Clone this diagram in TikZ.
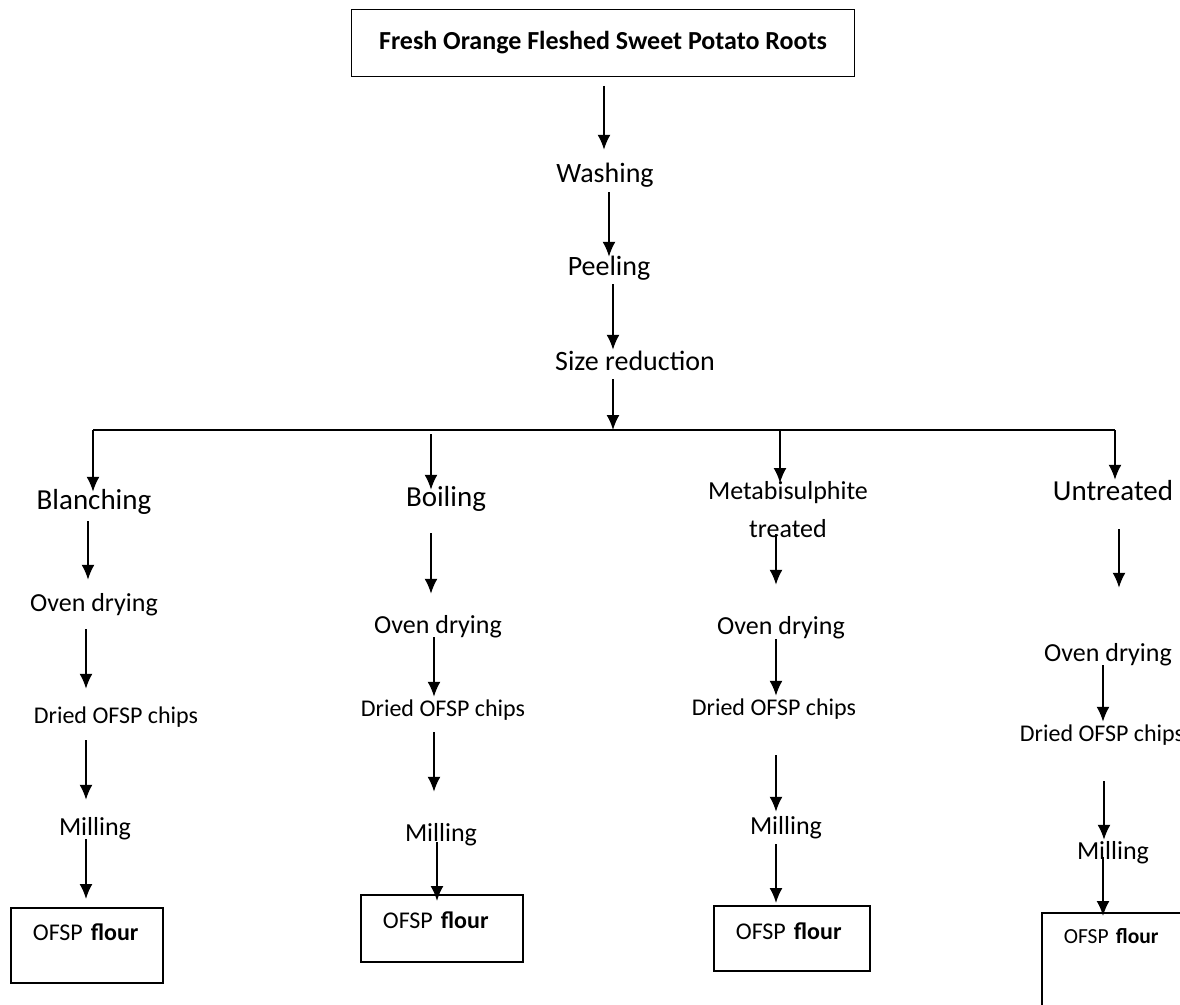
\documentclass[tikz,border=0pt]{standalone}
\usepackage{fontspec}
\setmainfont{Carlito}
\usetikzlibrary{arrows.meta}

\begin{document}
\begin{tikzpicture}[x=1pt,y=-1pt,
	arr/.style={-{Latex[length=15pt,width=13pt]},line width=1.8pt},
	big/.style={font=\fontsize{28}{34}\selectfont,inner sep=0pt,text height=20pt,text depth=7pt},
	mid/.style={font=\fontsize{26}{38}\selectfont,inner sep=0pt,text height=18pt,text depth=6pt},
	small/.style={font=\fontsize{24}{28}\selectfont,inner sep=0pt,text height=17pt,text depth=5pt},
	flourbox/.style={draw,line width=1.8pt,anchor=north west,align=left,inner xsep=22pt,inner ysep=0pt,font=\fontsize{24}{28}\selectfont}]
	\useasboundingbox (0,0) rectangle (1180,1004);
	\node[draw,line width=1.8pt,minimum width=503pt,minimum height=67pt,font=\fontsize{26}{30}\selectfont\bfseries] (roots) at (603,43) {Fresh Orange Fleshed Sweet Potato Roots};
	\node[big] (wash) at (605,176) {Washing};
	\node[big] (peel) at (609,269) {Peeling};
	\node[big] (size) at (635,364) {Size reduction};
	\coordinate (c0) at (613,430);
	\coordinate (c1) at (93,430);
	\coordinate (c2) at (431,430);
	\coordinate (c3) at (780,430);
	\coordinate (c4) at (1115,430);
	\node[big,font=\fontsize{29}{34}\selectfont] (blanch) at (94,503) {Blanching};
	\node[big,font=\fontsize{29}{34}\selectfont] (boil) at (446,500) {Boiling};
	\node[font=\fontsize{26}{38}\selectfont,inner sep=0pt,align=center,anchor=north] (meta) at (788,481) {Metabisulphite\\treated};
	\node[big,font=\fontsize{29}{34}\selectfont] (untreat) at (1113,494) {Untreated};
	\node[mid] (oven1) at (94,605) {Oven drying};
	\node[mid] (oven2) at (438,627) {Oven drying};
	\node[mid] (oven3) at (781,628) {Oven drying};
	\node[mid] (oven4) at (1108,655) {Oven drying};
	\node[small] (chips1) at (116,717) {Dried OFSP chips};
	\node[small] (chips2) at (443,710) {Dried OFSP chips};
	\node[small] (chips3) at (774,709) {Dried OFSP chips};
	\node[small] (chips4) at (1102,735) {Dried OFSP chips};
	\node[mid] (mill1) at (95,829) {Milling};
	\node[mid] (mill2) at (441,835) {Milling};
	\node[mid] (mill3) at (786,828) {Milling};
	\node[mid] (mill4) at (1113,853) {Milling};
	\node[flourbox,text width=108pt,text height=33pt,text depth=42pt] (flour1) at (10,907) {OFSP \textbf{flour}};
	\node[flourbox,text width=118pt,text height=34pt,text depth=33pt] (flour2) at (360,894) {OFSP \textbf{flour}};
	\node[flourbox,text width=112pt,text height=34pt,text depth=31pt] (flour3) at (713,905) {OFSP \textbf{flour}};
	\node[flourbox,text width=116pt,text height=31pt,text depth=81pt,font=\fontsize{21.5}{26}\selectfont] (flour4) at (1041,912) {OFSP \textbf{flour}};
	\draw[arr,shorten <=8.5pt,shorten >=12.5pt] (roots.south -| 604,0) -- (wash.north -| 604,0);
	\draw[arr,shorten <=2.5pt,shorten >=-1.5pt] (wash.south -| 609,0) -- (peel.north -| 609,0);
	\draw[arr,shorten <=1.5pt,shorten >=0.5pt] (peel.south -| 613,0) -- (size.north -| 613,0);
	\draw[arr,shorten <=1.5pt] (size.south -| c0) -- (c0);
	\draw[line width=1.8pt] (c1) -- (c4);
	\draw[arr,shorten >=-2.5pt] (c1) -- (blanch.north -| c1);
	\draw[arr,shorten <=4pt,shorten >=-3.5pt] (c2) -- (boil.north -| c2);
	\draw[arr,shorten <=1pt,shorten >=-2pt] (c3) -- (meta.north -| c3);
	\draw[arr,shorten >=0.5pt] (c4) -- (untreat.north -| c4);
	\draw[arr,shorten <=4.5pt,shorten >=13pt] (blanch.south -| 88,0) -- (oven1.north -| 88,0);
	\draw[arr,shorten <=12pt,shorten >=17pt] (oven1.south -| 86,0) -- (chips1.north -| 86,0);
	\draw[arr,shorten <=12pt,shorten >=17pt] (chips1.south -| 86,0) -- (mill1.north -| 86,0);
	\draw[arr,shorten <=-2pt,shorten >=8pt] (mill1.south -| 86,0) -- (flour1.north -| 86,0);
	\draw[arr,shorten <=19.5pt,shorten >=21pt] (boil.south -| 431,0) -- (oven2.north -| 431,0);
	\draw[arr,shorten <=-2pt,shorten >=2pt] (oven2.south -| 434,0) -- (chips2.north -| 434,0);
	\draw[arr,shorten <=11pt,shorten >=31pt] (chips2.south -| 434,0) -- (mill2.north -| 434,0);
	\draw[arr,shorten <=-5pt,shorten >=-7pt] (mill2.south -| 437,0) -- (flour2.north -| 437,0);
	\draw[arr,shorten <=-4pt,shorten >=31pt] (meta.south -| 776,0) -- (oven3.north -| 776,0);
	\draw[arr,shorten <=-1pt,shorten >=2pt] (oven3.south -| 776,0) -- (chips3.north -| 776,0);
	\draw[arr,shorten <=35pt,shorten >=4pt] (chips3.south -| 776,0) -- (mill3.north -| 776,0);
	\draw[arr,shorten <=4pt,shorten >=2pt] (mill3.south -| 776,0) -- (flour3.north -| 776,0);
	\draw[arr,shorten <=21.5pt,shorten >=55pt] (untreat.south -| 1119,0) -- (oven4.north -| 1119,0);
	\draw[arr,shorten <=-2pt,shorten >=2pt] (oven4.south -| 1103,0) -- (chips4.north -| 1103,0);
	\draw[arr,shorten <=35pt,shorten >=1pt] (chips4.south -| 1104,0) -- (mill4.north -| 1104,0);
	\draw[arr,shorten <=-8pt,shorten >=-4pt] (mill4.south -| 1103,0) -- (flour4.north -| 1103,0);
\end{tikzpicture}
\end{document}
